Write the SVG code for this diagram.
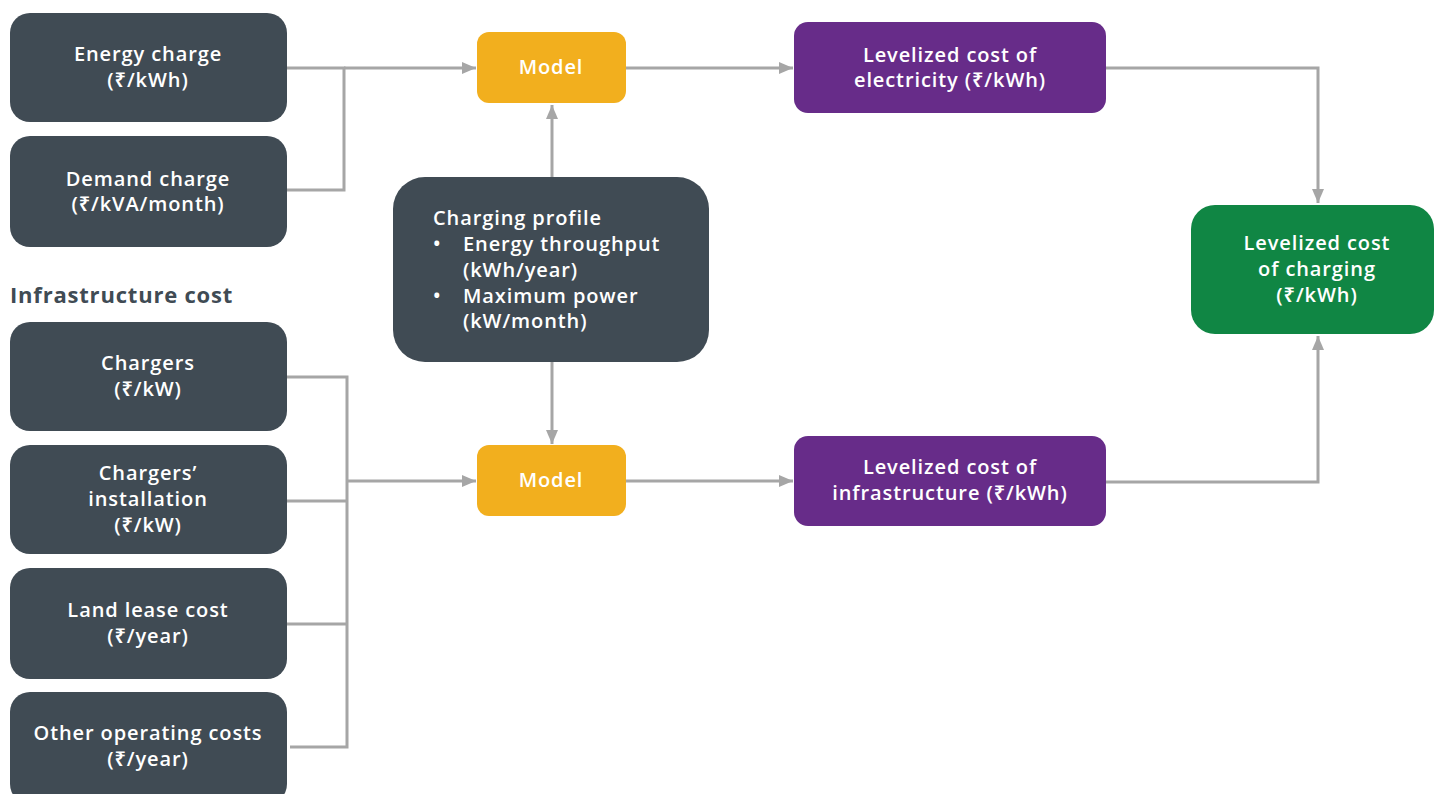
<svg xmlns="http://www.w3.org/2000/svg" width="1435" height="794" viewBox="0 0 1435 794">
<defs>
<marker id="ah" viewBox="0 0 14 12" refX="14" refY="6" markerWidth="14" markerHeight="12" markerUnits="userSpaceOnUse" orient="auto">
<path d="M0,0 L14,6 L0,12 Z" fill="#A6A6A6"/>
</marker>
</defs>
<style>
.dark{fill:#404B54}
.orange{fill:#F2AF1E}
.purple{fill:#672C89}
.green{fill:#108644}
text{font-family:"Open Sans","Noto Sans","DejaVu Sans",sans-serif;font-size:20px;font-weight:600;letter-spacing:0.9px;fill:#FFFFFF}
.c{text-anchor:middle}
.hdr{font-size:22px;font-weight:700;letter-spacing:0.8px;fill:#404B54}
.ln{fill:none;stroke:#A6A6A6;stroke-width:3}
.ar{fill:none;stroke:#A6A6A6;stroke-width:3;marker-end:url(#ah)}
</style>
<rect width="1435" height="794" fill="#FFFFFF"/>
<g id="connectors">
<path class="ln" d="M287,68 H344 V190 H287"/>
<path class="ar" d="M344,68 H476"/>
<path class="ar" d="M626,68 H793"/>
<path class="ar" d="M552,178 V105"/>
<path class="ar" d="M552,362 V444"/>
<path class="ln" d="M287,377 H347 V747 H290 M287,501 H347 M287,624 H347"/>
<path class="ar" d="M347,481 H476"/>
<path class="ar" d="M626,481 H793"/>
<path class="ar" d="M1106,68 H1318 V203"/>
<path class="ar" d="M1106,482 H1318 V336"/>
</g>
<g id="n-energy">
<rect class="dark" x="10" y="13" width="277" height="109" rx="20"/>
<text class="c" x="148" y="61">Energy charge</text>
<text class="c" x="148" y="87">(₹/kWh)</text>
</g>
<g id="n-demand">
<rect class="dark" x="10" y="136" width="277" height="111" rx="20"/>
<text class="c" x="148" y="186">Demand charge</text>
<text class="c" x="148" y="211">(₹/kVA/month)</text>
</g>
<g id="h-infra">
<text class="hdr" x="10" y="303">Infrastructure cost</text>
</g>
<g id="n-chargers">
<rect class="dark" x="10" y="322" width="277" height="109" rx="20"/>
<text class="c" x="148" y="370">Chargers</text>
<text class="c" x="148" y="396">(₹/kW)</text>
</g>
<g id="n-install">
<rect class="dark" x="10" y="445" width="277" height="109" rx="20"/>
<text class="c" x="148" y="480">Chargers’</text>
<text class="c" x="148" y="506">installation</text>
<text class="c" x="148" y="532">(₹/kW)</text>
</g>
<g id="n-land">
<rect class="dark" x="10" y="568" width="277" height="111" rx="20"/>
<text class="c" x="148" y="617">Land lease cost</text>
<text class="c" x="148" y="643">(₹/year)</text>
</g>
<g id="n-other">
<rect class="dark" x="10" y="692" width="277" height="112" rx="20"/>
<text class="c" x="148" y="740">Other operating costs</text>
<text class="c" x="148" y="766">(₹/year)</text>
</g>
<g id="n-model1">
<rect class="orange" x="477" y="32" width="149" height="71" rx="12"/>
<text class="c" x="551" y="74">Model</text>
</g>
<g id="n-profile">
<rect class="dark" x="393" y="177" width="316" height="185" rx="32"/>
<text x="433" y="225">Charging profile</text>
<text x="433" y="251">•</text>
<text x="463" y="251">Energy throughput</text>
<text x="463" y="277">(kWh/year)</text>
<text x="433" y="303">•</text>
<text x="463" y="303">Maximum power</text>
<text x="463" y="328">(kW/month)</text>
</g>
<g id="n-model2">
<rect class="orange" x="477" y="445" width="149" height="71" rx="12"/>
<text class="c" x="551" y="487">Model</text>
</g>
<g id="n-lce">
<rect class="purple" x="794" y="22" width="312" height="91" rx="14"/>
<text class="c" x="950" y="62">Levelized cost of</text>
<text class="c" x="950" y="87">electricity (₹/kWh)</text>
</g>
<g id="n-lci">
<rect class="purple" x="794" y="436" width="312" height="90" rx="14"/>
<text class="c" x="950" y="474">Levelized cost of</text>
<text class="c" x="950" y="500">infrastructure (₹/kWh)</text>
</g>
<g id="n-lcc">
<rect class="green" x="1191" y="205" width="243" height="129" rx="24"/>
<text class="c" x="1317" y="250">Levelized cost</text>
<text class="c" x="1317" y="276">of charging</text>
<text class="c" x="1317" y="302">(₹/kWh)</text>
</g>
</svg>
